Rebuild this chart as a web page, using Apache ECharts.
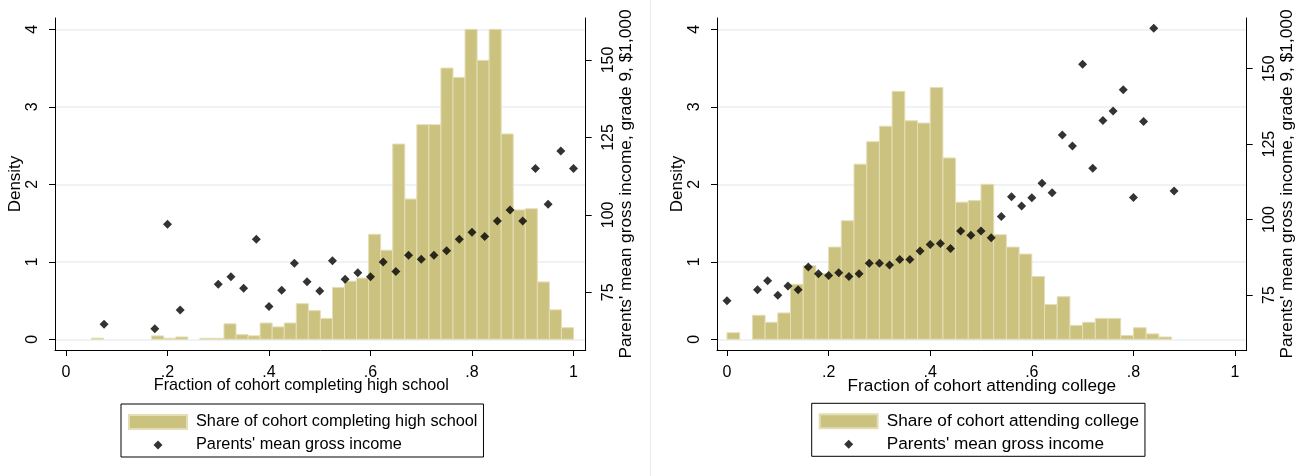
<!DOCTYPE html>
<html><head><meta charset="utf-8">
<script src="https://cdn.jsdelivr.net/npm/echarts@6/dist/echarts.min.js"></script>
<style>html,body{margin:0;padding:0;background:#fff}#c{width:1312px;height:476px}</style>
</head><body><div id="c"></div>
<script>
// ---- tick labels ----
const densityTicks = [0, 1, 2, 3, 4];
const incomeTicks = [75, 100, 125, 150];
const fractionTicks = [0, 0.2, 0.4, 0.6, 0.8, 1];

// ---- left panel: high school ----
const hsBinStart = 0.05;
const hsBinWidth = 0.02375;
const hsDensity = [0.015,0,0,0,0,0.044,0.013,0.03,0,0.013,
  0.013,0.2,0.06,0.045,0.21,0.16,0.21,0.46,0.37,0.27,
  0.67,0.75,0.79,1.355,1.15,2.52,1.81,2.77,2.77,3.50,
  3.38,4.00,3.60,4.00,2.65,1.67,1.685,0.74,0.38,0.15];
const hsIncomeX = [0.075,0.175,0.2,0.225,0.3,0.325,0.35,0.375,0.4,0.425,0.45,0.475,0.5,0.525,0.55,
  0.575,0.6,0.625,0.65,0.675,0.7,0.725,0.75,0.775,0.8,0.825,0.85,0.875,0.9,0.925,0.95,0.975,1.0];
const hsIncome = [64.7,63.2,97.0,69.3,77.6,80.0,76.3,92.1,70.4,75.7,84.4,78.4,75.4,85.2,79.2,
  81.3,80.0,84.8,81.7,87.0,85.7,87.0,88.4,92.1,94.4,93.0,98.0,101.6,98.0,115.0,103.4,120.6,115.0];

// ---- right panel: college ----
const colBinStart = 0;
const colBinWidth = 0.025;
const colDensity = [0.085,0,0.31,0.22,0.34,0.71,0.95,0.85,1.19,1.53,
  2.26,2.55,2.75,3.20,2.82,2.79,3.25,2.34,1.77,1.79,
  2.0,1.35,1.19,1.10,0.81,0.45,0.55,0.18,0.22,0.27,
  0.27,0.05,0.15,0.07,0.03];
const colIncomeX = [0,0.06,0.08,0.10,0.12,0.14,0.16,0.18,0.20,0.22,0.24,0.26,0.28,0.30,0.32,0.34,0.36,0.38,0.40,0.42,
  0.44,0.46,0.48,0.50,0.52,0.54,0.56,0.58,0.60,0.62,0.64,0.66,0.68,0.70,0.72,0.74,0.76,0.78,0.80,0.82,0.84,0.88];
const colIncome = [73.1,76.7,79.7,74.9,78.0,76.7,84.3,82.0,81.5,82.4,81.1,82.0,85.5,85.5,84.9,86.8,86.8,89.6,91.7,92.1,
  90.4,96.2,94.8,96.2,94.0,101.0,107.6,104.5,107.2,112.0,108.9,128.0,124.4,151.5,117.0,132.8,136.0,143.0,107.3,132.5,163.4,109.5];

const FONT = "'Liberation Sans',Arial,sans-serif";
const BAR = '#CCC27F', BAR_EDGE = '#E4DEB6', GRID = '#EAEFF5', INK = '#000';

function bins(start, width, dens) {
  return dens.map((d, i) => [start + i * width, start + (i + 1) * width, d]);
}
function pts(xs, ys) { return xs.map((x, i) => [x, ys[i]]); }
function fracFmt(v) { if (v === 0) return '0'; if (v === 1) return '1'; return String(+v.toFixed(1)).replace(/^0/, ''); }

function renderBin(params, api) {
  const h = api.value(2);
  if (!h) return null;
  const p0 = api.coord([api.value(0), 0]);
  const p1 = api.coord([api.value(1), h]);
  return { type: 'rect', shape: { x: p0[0], y: p1[1], width: p1[0] - p0[0], height: p0[1] - p1[1] },
    style: { fill: BAR, stroke: BAR_EDGE, lineWidth: 1 } };
}

function xAxis(grid, min, max, name, pad, fs) {
  return { type: 'value', gridIndex: grid, min: min, max: max,
    axisLine: { show: true, onZero: false, lineStyle: { color: INK, width: 1 } },
    axisTick: { show: true, customValues: fractionTicks, length: 6, lineStyle: { color: INK } },
    axisLabel: { customValues: fractionTicks, formatter: fracFmt, fontFamily: FONT, fontSize: 16, color: INK, margin: 15 },
    splitLine: { show: false },
    name: name, nameLocation: 'middle', nameGap: 28, nameMoveOverlap: false,
    nameTextStyle: { fontFamily: FONT, fontSize: fs, color: INK, padding: pad } };
}
function densAxis(grid) {
  return { type: 'value', gridIndex: grid, position: 'left', min: -0.138, max: 4.146,
    axisLine: { show: true, onZero: false, lineStyle: { color: INK } },
    axisTick: { show: true, customValues: densityTicks, length: 6, lineStyle: { color: INK } },
    axisLabel: { customValues: densityTicks, rotate: 90, fontFamily: FONT, fontSize: 16, color: INK, margin: 14 },
    splitLine: { show: true, lineStyle: { color: GRID, width: 1.5 } },
    name: 'Density', nameLocation: 'middle', nameGap: 25,
    nameTextStyle: { fontFamily: FONT, fontSize: 17, color: INK } };
}
function incAxis(grid, min, max) {
  return { type: 'value', gridIndex: grid, position: 'right', min: min, max: max,
    axisLine: { show: true, onZero: false, lineStyle: { color: INK } },
    axisTick: { show: true, customValues: incomeTicks, length: 6, lineStyle: { color: INK } },
    axisLabel: { customValues: incomeTicks, rotate: 90, fontFamily: FONT, fontSize: 16, color: INK, margin: 15 },
    splitLine: { show: false },
    name: "Parents' mean gross income, grade 9, $1,000", nameLocation: 'middle', nameGap: 22,
    nameTextStyle: { fontFamily: FONT, fontSize: 17.3, color: INK } };
}
function legend(left, top, first, fs) {
  return { orient: 'vertical', left: left, top: top, padding: [7, 6, 1, 7], itemGap: 1,
    itemWidth: 62, itemHeight: 14, borderColor: INK, borderWidth: 1, selectedMode: false,
    textStyle: { fontFamily: FONT, fontSize: fs, color: INK, lineHeight: 22 },
    data: [
      { name: first, icon: 'path://M0,0L58,0L58,14L0,14Z M62,14' },
      { name: "Parents' mean gross income", icon: 'path://M0,0 M62,14 M29,2.5L33.5,7L29,11.5L24.5,7Z' }
    ] };
}

const chart = echarts.init(document.getElementById('c'), null, { renderer: 'canvas' });
chart.setOption({
  animation: false,
  backgroundColor: '#fff',
  grid: [
    { left: 55, right: 726.3, top: 18, bottom: 126 },
    { left: 717, right: 65.3, top: 18, bottom: 126 }
  ],
  xAxis: [
    xAxis(0, -0.0217, 1.024, 'Fraction of cohort completing high school', [0, 38, 0, 0], 16.2),
    xAxis(1, -0.0197, 1.023, 'Fraction of cohort attending college', 0, 17.2)
  ],
  yAxis: [densAxis(0), incAxis(0, 56.37, 163.56), densAxis(1), incAxis(1, 56.77, 166.8)],
  legend: [legend(121, 404, 'Share of cohort completing high school', 16.3),
           legend(811.7, 403.3, 'Share of cohort attending college', 17.2)],
  graphic: [{ type: 'line', shape: { x1: 650.5, y1: 0, x2: 650.5, y2: 476 }, style: { stroke: '#ececec', lineWidth: 1 } }],
  series: [
    { name: 'Share of cohort completing high school', type: 'custom', coordinateSystem: 'cartesian2d',
      xAxisIndex: 0, yAxisIndex: 0, renderItem: renderBin, encode: { x: [0, 1], y: 2 },
      itemStyle: { color: BAR, borderColor: BAR_EDGE, borderWidth: 1 },
      data: bins(hsBinStart, hsBinWidth, hsDensity), z: 1 },
    { name: "Parents' mean gross income", type: 'scatter', xAxisIndex: 0, yAxisIndex: 1,
      symbol: 'diamond', symbolSize: 9, itemStyle: { color: INK }, data: pts(hsIncomeX, hsIncome), z: 3 },
    { name: 'Share of cohort attending college', type: 'custom', coordinateSystem: 'cartesian2d',
      xAxisIndex: 1, yAxisIndex: 2, renderItem: renderBin, encode: { x: [0, 1], y: 2 },
      itemStyle: { color: BAR, borderColor: BAR_EDGE, borderWidth: 1 },
      data: bins(colBinStart, colBinWidth, colDensity), z: 1 },
    { name: "Parents' mean gross income", type: 'scatter', xAxisIndex: 1, yAxisIndex: 3,
      symbol: 'diamond', symbolSize: 9, itemStyle: { color: INK }, data: pts(colIncomeX, colIncome), z: 3 }
  ]
});
</script></body></html>
